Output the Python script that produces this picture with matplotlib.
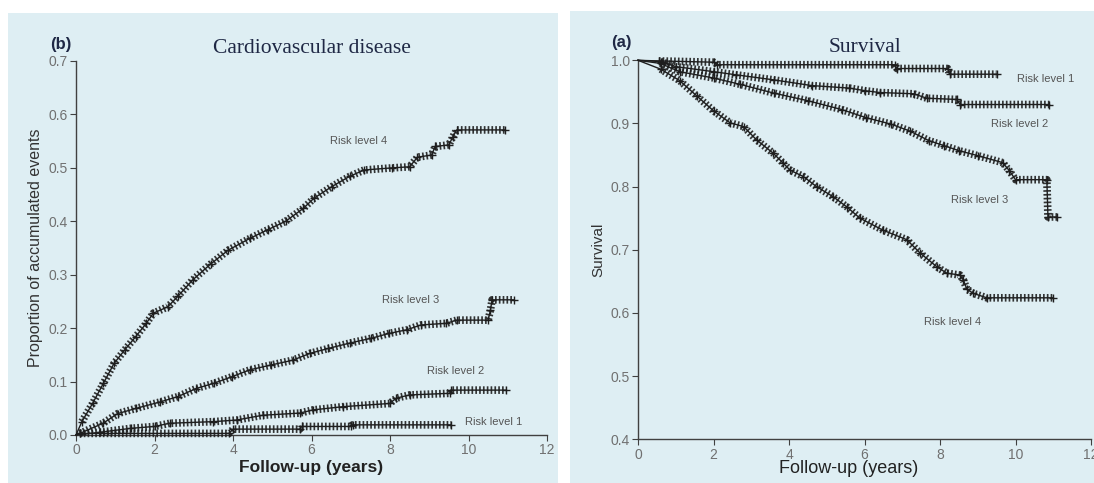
import numpy as np
import matplotlib
matplotlib.use("Agg")
import matplotlib.pyplot as plt
from matplotlib.patches import Rectangle

plt.rcParams['font.family'] = ['Liberation Sans', 'DejaVu Sans']

# ---- (b) Cardiovascular disease: proportion of accumulated events ----
cvd4_t = [0, 0.15, 0.43, 0.7, 0.97, 1.25, 1.52, 1.79, 1.97, 2.34, 2.6, 2.97, 3.43, 3.88, 4.43, 4.88,
          5.34, 5.79, 6.06, 6.52, 6.97, 7.34, 8.06, 8.5, 8.7, 9.06, 9.15, 9.5, 9.6, 9.7, 10.93]
cvd4_v = [0, 0.025, 0.06, 0.097, 0.134, 0.16, 0.184, 0.209, 0.228, 0.24, 0.26, 0.29, 0.32, 0.346, 0.368, 0.384,
          0.40, 0.424, 0.443, 0.465, 0.484, 0.496, 0.50, 0.502, 0.52, 0.524, 0.54, 0.543, 0.558, 0.571, 0.571]

cvd3_t = [0, 0.1, 0.69, 1.06, 1.54, 2.15, 2.6, 3.06, 3.52, 3.97, 4.43, 4.97, 5.52, 5.97, 6.43, 6.97,
          7.52, 7.97, 8.43, 8.79, 9.43, 9.7, 10.5, 10.56, 10.6, 11.15]
cvd3_v = [0, 0.003, 0.022, 0.04, 0.05, 0.062, 0.072, 0.087, 0.097, 0.109, 0.122, 0.131, 0.14, 0.153, 0.162, 0.172,
          0.181, 0.19, 0.197, 0.206, 0.209, 0.215, 0.215, 0.234, 0.253, 0.253]

cvd2_t = [0, 0.6, 1.4, 2.0, 2.39, 3.5, 4.09, 4.76, 5.7, 6.04, 6.8, 7.99, 8.16, 8.5, 9.52, 9.56, 10.96]
cvd2_v = [0, 0.005, 0.0125, 0.016, 0.022, 0.025, 0.028, 0.037, 0.041, 0.047, 0.053, 0.059, 0.069, 0.075, 0.078, 0.084, 0.084]

cvd1_t = [0, 0.1, 3.9, 4.0, 5.7, 5.75, 7.0, 7.05, 9.56]
cvd1_v = [0, 0.003, 0.003, 0.011, 0.011, 0.016, 0.016, 0.019, 0.019]

# ---- (a) Survival ----
s1_t = [0, 0.55, 2.0, 2.1, 6.8, 6.86, 8.2, 8.26, 9.5]
s1_v = [1.0, 0.999, 0.997, 0.993, 0.993, 0.987, 0.987, 0.978, 0.978]

s2_t = [0, 0.6, 1.0, 2.0, 2.6, 3.6, 4.6, 5.6, 6.0, 6.4, 7.3, 7.65, 8.45, 8.53, 10.9]
s2_v = [1.0, 0.998, 0.99, 0.982, 0.977, 0.969, 0.96, 0.956, 0.952, 0.949, 0.947, 0.94, 0.938, 0.93, 0.93]

s3_t = [0, 0.6, 1.1, 2.0, 2.7, 3.6, 4.5, 5.4, 6.05, 6.7, 7.2, 7.7, 8.1, 8.5, 9.0, 9.66, 9.84, 10.0,
        10.83, 10.86, 11.1]
s3_v = [1.0, 0.995, 0.982, 0.972, 0.962, 0.948, 0.936, 0.922, 0.909, 0.899, 0.888, 0.873, 0.865, 0.857,
        0.849, 0.838, 0.825, 0.811, 0.811, 0.752, 0.752]

s4_t = [0, 0.6, 1.1, 1.55, 2.0, 2.44, 2.8, 3.14, 3.58, 3.85, 4.03, 4.38, 4.73, 5.17, 5.53, 5.88, 6.49,
        7.12, 7.47, 7.92, 8.18, 8.53, 8.62, 8.71, 8.88, 9.24, 11.0]
s4_v = [1.0, 0.986, 0.968, 0.944, 0.92, 0.901, 0.895, 0.874, 0.853, 0.837, 0.826, 0.816, 0.8, 0.784,
        0.768, 0.75, 0.731, 0.716, 0.695, 0.673, 0.663, 0.66, 0.652, 0.638, 0.631, 0.624, 0.624]

risk_labels = ["Risk level 1", "Risk level 2", "Risk level 3", "Risk level 4"]
cvd_label_pos = [(9.9, 0.025), (8.93, 0.12), (7.79, 0.253), (6.46, 0.55)]
surv_label_pos = [(10.04, 0.970), (9.36, 0.899), (8.29, 0.779), (7.58, 0.586)]

bg = '#deeef3'
ink = '#1e1e1e'
navy = '#1f2845'
tick_col = '#707070'

fig = plt.figure(figsize=(10.94, 4.83), dpi=100)
fig.patches.append(Rectangle((8 / 1094, 0), 550 / 1094, 470 / 483, transform=fig.transFigure,
                             facecolor=bg, edgecolor='none', zorder=-10))
fig.patches.append(Rectangle((570 / 1094, 0), 524 / 1094, 472 / 483, transform=fig.transFigure,
                             facecolor=bg, edgecolor='none', zorder=-10))

axL = fig.add_axes([76 / 1094, 1 - 435 / 483, 471 / 1094, 374 / 483])
axR = fig.add_axes([638 / 1094, 1 - 439.3 / 483, 453 / 1094, 379 / 483])


def draw_curve(ax, t, v):
    ax.plot(t, v, color=ink, lw=1.0, zorder=3, clip_on=False)
    # dense censor ticks along the curve
    ax.plot(t[1:], v[1:], color=ink, lw=5.5, dashes=(0.22, 0.28), zorder=3, clip_on=False,
            dash_capstyle='butt', alpha=0.9)
    ax.plot(t[1:], v[1:], '+', color=ink, ms=6, mew=1.0, zorder=4, clip_on=False)


for ax in (axL, axR):
    ax.set_facecolor('none')
    for s in ('top', 'right'):
        ax.spines[s].set_visible(False)
    for s in ('left', 'bottom'):
        ax.spines[s].set_color('#404040')
        ax.spines[s].set_linewidth(1.0)
    ax.tick_params(direction='out', length=4, width=0.8, color='#404040',
                   labelsize=10, labelcolor=tick_col, pad=2)
    ax.set_xlim(0, 12)
    ax.set_xticks(np.arange(0, 13, 2))

# left panel
for t, v in [(cvd4_t, cvd4_v), (cvd3_t, cvd3_v), (cvd2_t, cvd2_v), (cvd1_t, cvd1_v)]:
    draw_curve(axL, t, v)
axL.set_ylim(0, 0.7)
axL.set_yticks(np.arange(0, 0.71, 0.1))
axL.set_yticklabels(["%.1f" % y for y in np.arange(0, 0.71, 0.1)])
axL.set_xlabel("Follow-up (years)", fontsize=12.5, fontweight='bold', color='#222222', labelpad=2)
axL.set_ylabel("Proportion of accumulated events", fontsize=11.5, color='#333333', labelpad=4)
axL.set_title("Cardiovascular disease", fontsize=15.5, family='Liberation Serif', color=navy, pad=6)
for lab, (x, y) in zip(risk_labels, cvd_label_pos):
    axL.text(x, y, lab, fontsize=8, color='#555555', ha='left', va='center')
fig.text(50 / 1094, 1 - 45 / 483, "(b)", fontsize=12, fontweight='bold', color=navy, va='center')

# right panel
for t, v in [(s1_t, s1_v), (s2_t, s2_v), (s3_t, s3_v), (s4_t, s4_v)]:
    draw_curve(axR, t, v)
axR.set_ylim(0.4, 1.0)
axR.set_yticks(np.arange(0.4, 1.01, 0.1))
axR.set_yticklabels(["%.1f" % y for y in np.arange(0.4, 1.01, 0.1)])
axR.set_xlabel("Follow-up (years)", fontsize=13, color='#222222', labelpad=2)
axR.xaxis.set_label_coords(0.465, -0.055)
axR.set_ylabel("Survival", fontsize=11, color='#333333', labelpad=4)
axR.set_title("Survival", fontsize=15.5, family='Liberation Serif', color=navy, pad=6)
for lab, (x, y) in zip(risk_labels, surv_label_pos):
    axR.text(x, y, lab, fontsize=8, color='#555555', ha='left', va='center')
fig.text(611 / 1094, 1 - 42 / 483, "(a)", fontsize=12, fontweight='bold', color=navy, va='center')

fig.savefig("out.png", dpi=100, facecolor='white')
